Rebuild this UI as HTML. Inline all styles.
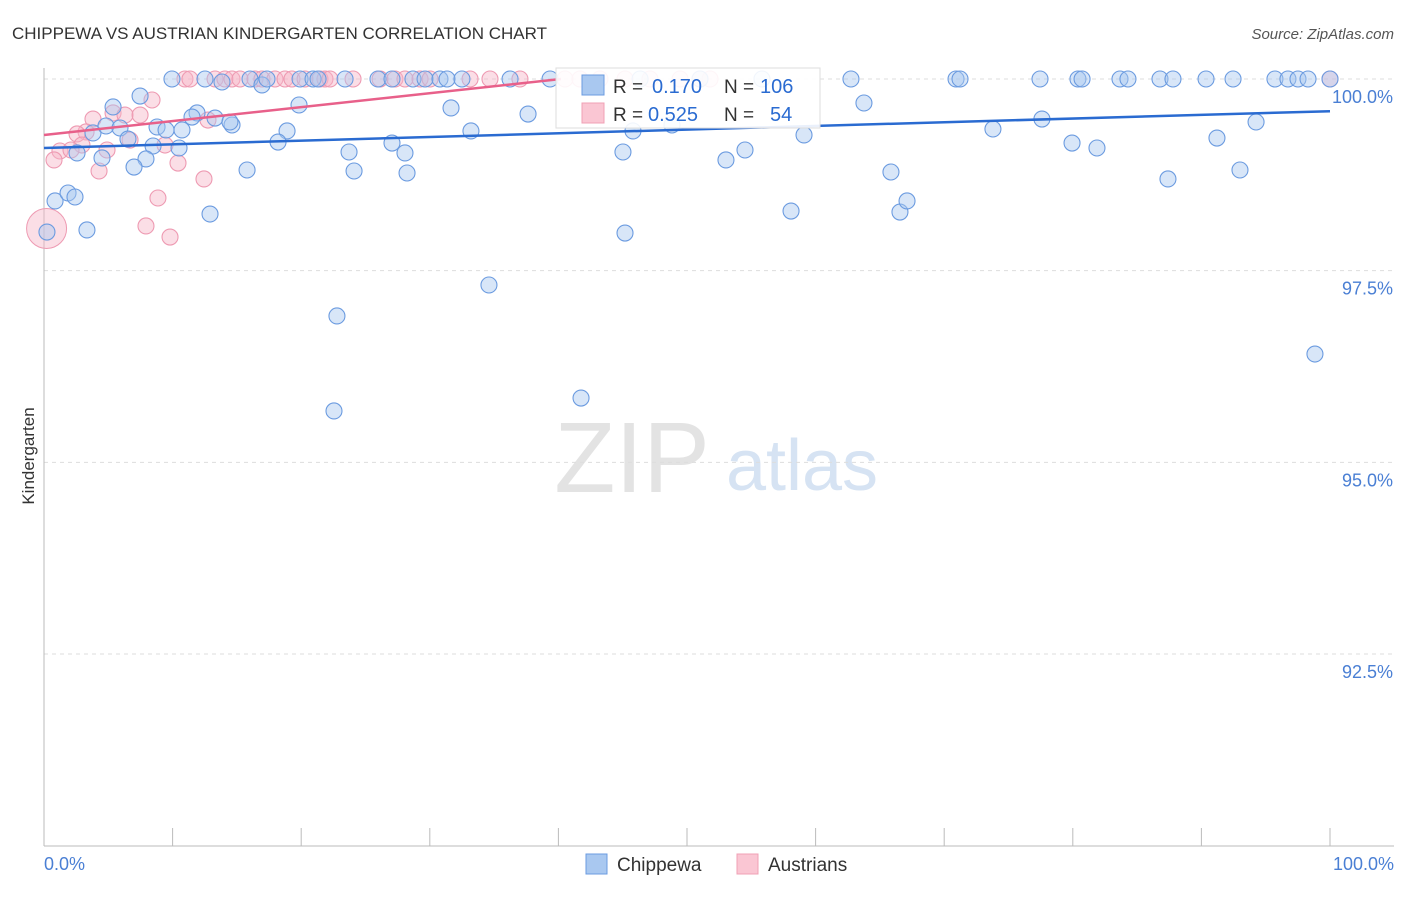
<!DOCTYPE html>
<html><head><meta charset="utf-8"><style>
body{margin:0;background:#fff;font-family:"Liberation Sans",sans-serif}
svg text{font-family:"Liberation Sans",sans-serif}
</style></head><body>
<svg id="c" width="1406" height="892">
<text x="12" y="39" font-size="17" fill="#333">CHIPPEWA VS AUSTRIAN KINDERGARTEN CORRELATION CHART</text>
<text x="1394" y="39" font-size="15" fill="#555" font-style="italic" text-anchor="end">Source: ZipAtlas.com</text>
<text x="34" y="456" font-size="17" fill="#333" transform="rotate(-90 34 456)" text-anchor="middle">Kindergarten</text>
<text x="632" y="492" font-size="100" fill="#e3e3e3" font-family="Liberation Serif" text-anchor="middle">ZIP</text>
<text x="802" y="490" font-size="72" fill="#d6e3f3" text-anchor="middle">atlas</text>
<g id="grid"></g><g id="pts"></g><g id="lines"></g>
<g>
<rect x="556" y="68" width="264" height="60" fill="#fff" fill-opacity="0.9" stroke="#ddd"/>
<rect x="582" y="75" width="22" height="20" fill="#a9c8f0" stroke="#6b9be0"/>
<rect x="582" y="103" width="22" height="20" fill="#fac6d3" stroke="#f0a0b5"/>
<text x="613" y="93" font-size="19" fill="#333">R =</text>
<text x="652" y="93" font-size="20" fill="#2a6bd1">0.170</text>
<text x="724" y="93" font-size="19" fill="#333">N =</text>
<text x="760" y="93" font-size="20" fill="#2a6bd1">106</text>
<text x="613" y="121" font-size="19" fill="#333">R =</text>
<text x="648" y="121" font-size="20" fill="#2a6bd1">0.525</text>
<text x="724" y="121" font-size="19" fill="#333">N =</text>
<text x="770" y="121" font-size="20" fill="#2a6bd1">54</text>
</g>
<g>
<rect x="586" y="854" width="21" height="20" fill="#a9c8f0" stroke="#6b9be0"/>
<text x="617" y="871" font-size="19" fill="#333">Chippewa</text>
<rect x="737" y="854" width="21" height="20" fill="#fac6d3" stroke="#f0a0b5"/>
<text x="768" y="871" font-size="19" fill="#333">Austrians</text>
</g>
</svg>
<script>
const yTicks=[100,97.5,95,92.5];
const yTickLabels=["100.0%","97.5%","95.0%","92.5%"];
const xLabels=["0.0%","100.0%"];
const bluePx=[[172,79],[205,79],[222,82],[250,79],[262,85],[267,79],[300,79],[313,79],[318,79],[345,79],[378,79],[392,79],[413,79],[425,79],[440,79],[447,79],[462,79],[510,79],[550,79],[640,79],[700,79],[762,79],[851,79],[956,79],[960,79],[1040,79],[1078,79],[1082,79],[1120,79],[1128,79],[1160,79],[1173,79],[1206,79],[1233,79],[1275,79],[1288,79],[1298,79],[1308,79],[1330,79],[140,96],[113,107],[197,113],[192,117],[215,118],[232,125],[230,122],[299,105],[451,108],[528,114],[864,103],[1256,122],[93,133],[106,126],[120,128],[157,127],[166,130],[182,130],[287,131],[471,131],[633,131],[672,125],[804,135],[993,129],[1042,119],[1217,138],[128,139],[153,146],[179,148],[77,153],[102,158],[146,159],[134,167],[278,142],[349,152],[392,143],[405,153],[623,152],[745,150],[726,160],[1072,143],[1097,148],[247,170],[354,171],[407,173],[891,172],[1168,179],[1240,170],[55,201],[68,193],[75,197],[210,214],[87,230],[47,232],[625,233],[791,211],[900,212],[907,201],[489,285],[337,316],[1315,354],[334,411],[581,398]];
const pinkPx=[[185,79],[190,79],[215,79],[225,79],[232,79],[240,79],[255,79],[262,79],[275,79],[285,79],[292,79],[305,79],[320,79],[325,79],[330,79],[353,79],[380,79],[395,79],[405,79],[420,79],[430,79],[470,79],[490,79],[520,79],[565,79],[580,79],[600,79],[625,79],[650,79],[680,79],[700,79],[710,79],[1330,79],[152,100],[93,119],[113,113],[125,115],[140,115],[86,132],[77,134],[82,145],[60,151],[71,150],[54,160],[99,171],[107,150],[130,140],[165,145],[178,163],[204,179],[208,120],[158,198],[146,226],[170,237]];
const blueX=bluePx.map(p=>+((p[0]-44)/12.86).toFixed(2));
const blueY=bluePx.map(p=>+(100-(p[1]-79)/76.67).toFixed(3));
const pinkX=pinkPx.map(p=>+((p[0]-44)/12.86).toFixed(2));
const pinkY=pinkPx.map(p=>+(100-(p[1]-79)/76.67).toFixed(3));
const blueTrend=[99.1,99.58];
const pinkTrend=[99.27,100.0];
const pinkTrendEndX=40.2;
const X=v=>44+v*12.86, Y=v=>79+(100-v)*76.67;
const NS="http://www.w3.org/2000/svg";
function mk(t,a,p){const e=document.createElementNS(NS,t);for(const k in a)e.setAttribute(k,a[k]);p.appendChild(e);return e;}
const g=document.getElementById('grid');
yTicks.forEach((t,i)=>{
 const l=mk('line',{x1:44,x2:1394,y1:Y(t),y2:Y(t),stroke:'#ddd','stroke-dasharray':'4,4'},g);
 
 
 const tx=mk('text',{x:1393,y:Y(t)+24,'font-size':18,fill:'#4a7fd4','text-anchor':'end'},g);
 tx.textContent=yTickLabels[i];
 
 
});
const ax=mk('line',{x1:44,x2:44,y1:68,y2:846,stroke:'#bbb'},g);


const bx=mk('line',{x1:44,x2:1394,y1:846,y2:846,stroke:'#bbb'},g);


for(let i=0;i<=10;i++){const t=mk('line',{x1:X(i*10),x2:X(i*10),y1:828,y2:846,stroke:'#bbb'},g);
 
 }
[[0,'start',44],[100,'end',1394]].forEach((d,i)=>{const t=mk('text',{x:d[2],y:870,'font-size':18,fill:'#4a7fd4','text-anchor':d[1]},g);t.textContent=xLabels[i];
 
 });
const pg=document.getElementById('pts');
pinkX.forEach((x,i)=>{const c=mk('circle',{cx:X(x),cy:Y(pinkY[i]),r:8,fill:'#f7b6c8','fill-opacity':0.45,stroke:'#ee9ab2','stroke-width':1.1},pg);
 
 });
const big=mk('circle',{cx:X(0.2),cy:Y(98.05),r:20,fill:'#f7b6c8','fill-opacity':0.45,stroke:'#ee9ab2'},pg);


blueX.forEach((x,i)=>{const c=mk('circle',{cx:X(x),cy:Y(blueY[i]),r:8,fill:'#a9c8f0','fill-opacity':0.45,stroke:'#6b9be0','stroke-width':1.1},pg);
 
 });
const lg=document.getElementById('lines');
const bl=mk('line',{x1:X(0),y1:Y(blueTrend[0]),x2:X(100),y2:Y(blueTrend[1]),stroke:'#2a6bd1','stroke-width':2.5},lg);


const pl=mk('line',{x1:X(0),y1:Y(pinkTrend[0]),x2:X(pinkTrendEndX),y2:Y(pinkTrend[1]),stroke:'#e8608a','stroke-width':2.5},lg);


</script>
</body></html>
